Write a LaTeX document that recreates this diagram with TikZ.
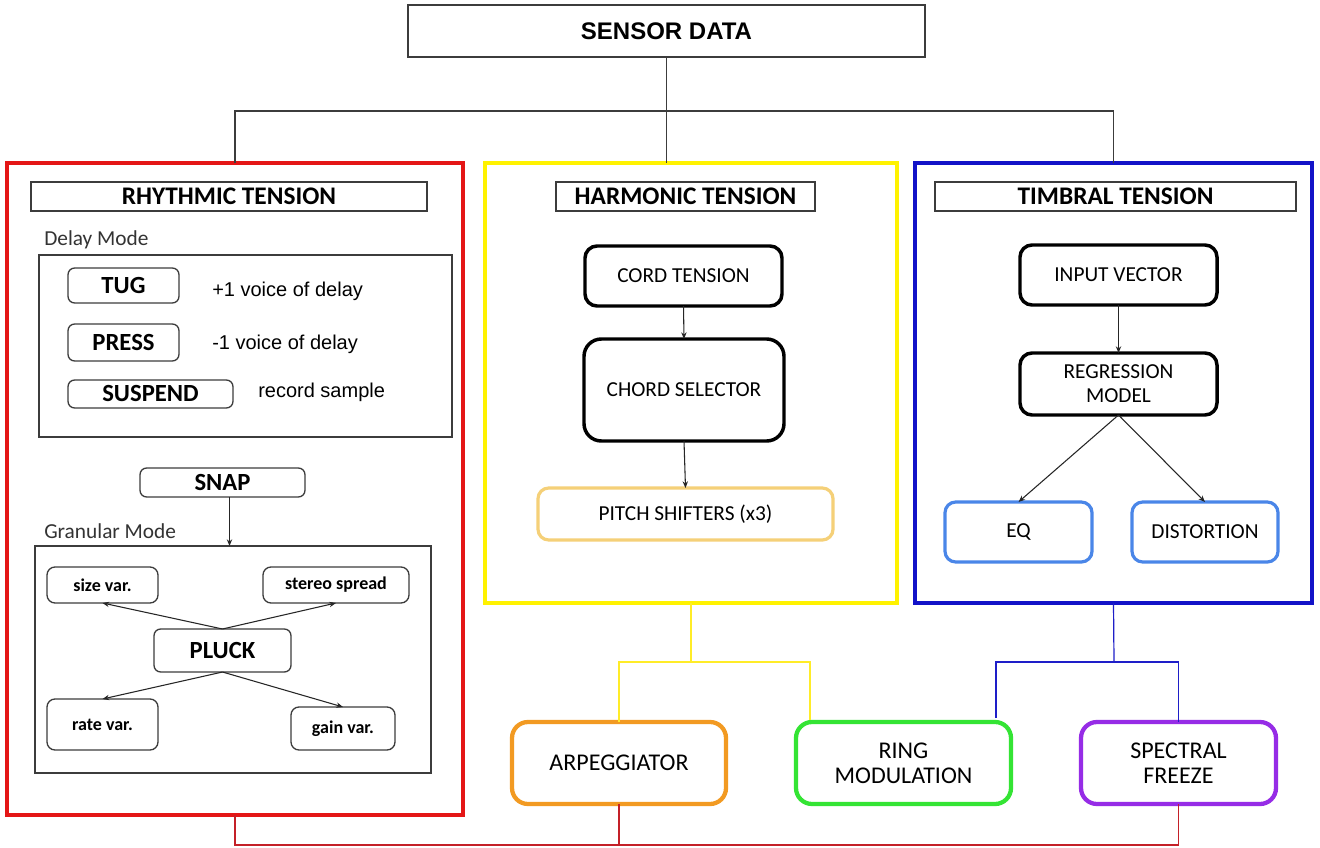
\documentclass[tikz,border=0pt]{standalone}
\usepackage{fontspec}
\setmainfont{Carlito}
\newfontfamily\arialfont{Liberation Sans}
\usetikzlibrary{calc,arrows.meta}

\definecolor{panelred}{RGB}{228,22,22}
\definecolor{panelyellow}{RGB}{255,242,0}
\definecolor{panelblue}{RGB}{18,18,200}
\definecolor{pitchgold}{RGB}{245,208,120}
\definecolor{fxblue}{RGB}{74,134,232}
\definecolor{arporange}{RGB}{242,154,34}
\definecolor{ringgreen}{RGB}{52,228,52}
\definecolor{freezepurple}{RGB}{150,44,230}
\definecolor{wirered}{RGB}{196,32,40}
\definecolor{wireyellow}{RGB}{255,236,40}
\definecolor{wireblue}{RGB}{30,30,200}
\definecolor{edgegray}{RGB}{60,60,60}

\tikzset{
  % a box given by its corners: left/top/right/bottom in pixel units
  corners/.style args={#1/#2/#3/#4}{
    at={(0.5*#1+0.5*#3,0.5*#2+0.5*#4)},
    minimum width={(#3-#1)*0.75pt}, minimum height={(#4-#2)*0.75pt}},
  plainbox/.style={rectangle, inner sep=0pt, outer sep=0pt, align=center},
  panel/.style={plainbox, line width=3.4pt},
  titlebox/.style={plainbox, draw=edgegray, line width=1.2pt,
    font=\fontsize{19}{21}\selectfont\bfseries},
  stagebox/.style={plainbox, draw=black, line width=2.6pt, rounded corners=9pt,
    font=\fontsize{16}{18}\selectfont},
  fxbox/.style={plainbox, line width=2.4pt, rounded corners=8pt,
    font=\fontsize{16}{18}\selectfont},
  outbox/.style={plainbox, line width=3.2pt, rounded corners=12pt,
    font=\fontsize{18}{19}\selectfont},
  gesture/.style={plainbox, draw=edgegray, line width=1pt, rounded corners=5pt,
    font=\fontsize{18.5}{20}\selectfont\bfseries},
  grain/.style={plainbox, draw=edgegray, line width=1pt, rounded corners=6pt,
    font=\fontsize{13.5}{15}\selectfont\bfseries},
  modebox/.style={plainbox, draw=edgegray, line width=1.2pt},
  modelabel/.style={anchor=west, inner sep=0pt, font=\fontsize{16}{18}\selectfont, text=black!80},
  note/.style={anchor=west, inner sep=0pt, font=\arialfont\fontsize{15}{17}\selectfont},
  conn/.style={draw=edgegray, line width=0.9pt},
  arr/.style={draw=black!85, line width=0.8pt, -{Stealth[length=5pt,width=4pt]}},
  wire/.style={line width=0.9pt},
}

\begin{document}
\begin{tikzpicture}[x=0.75pt,y=-0.75pt]
\useasboundingbox[fill=white] (0,0) rectangle (1320,848);

% ---- source ----
\node[plainbox, draw=edgegray, line width=1.2pt, corners=408/5/925/57,
  font=\arialfont\fontsize{18}{20}\selectfont\bfseries] (sd) {SENSOR DATA};

% ---- the three tension panels ----
\node[panel, draw=panelred,    corners=7/163/463/815]   (rb) {};
\node[panel, draw=panelyellow, corners=485/163/897/603] (yb) {};
\node[panel, draw=panelblue,   corners=915/163/1312/603] (bb) {};

\coordinate (bus) at (0,111);
\draw[conn] (sd.south) -- (sd.south |- yb.north);
\draw[conn] (rb.north) -- (rb.north |- bus) -| (bb.north);

% ---- rhythmic tension ----
\node[titlebox, corners=31/182/427/211] (rt) {RHYTHMIC TENSION};
\node[modelabel] (dml) at (44,240) {Delay Mode};
\node[modebox, corners=39/255/452/437] (dm) {};
\node[gesture, corners=68/268/179/303] (tug) {TUG};
\node[gesture, corners=68/324/179/361] (press) {PRESS};
\node[gesture, corners=68/380/233/408] (suspend) {SUSPEND};
\node[note] (n1) at (212,291) {+1 voice of delay};
\node[note] (n2) at (212,344) {-1 voice of delay};
\node[note] (n3) at (258,392) {record sample};

\node[gesture, corners=140/468/305/497] (snap) {SNAP};
\node[modelabel] (gml) at (44,531) {Granular Mode};
\node[modebox, corners=35/546/431/773] (gm) {};
\coordinate (snapout) at ($(snap.south)+(7,0)$);
\draw[arr] (snapout) -- (snapout |- gm.north);

\node[grain, corners=47/567/158/603] (size) {size var.};
\node[grain, corners=263/567/409/603] (stereo) {stereo spread};
\node[gesture, corners=154/629/291/672] (pluck) {PLUCK};
\node[grain, corners=47/699/158/750] (rate) {rate var.};
\node[grain, corners=291/707/395/750] (gain) {gain var.};
\draw[arr] (pluck.north) -- (size.south);
\draw[arr] (pluck.north) -- (stereo.south);
\draw[arr] (pluck.south) -- (rate.north);
\draw[arr] (pluck.south) -- (gain.north);

% ---- harmonic tension ----
\node[titlebox, corners=556/182/815/211] (ht) {HARMONIC TENSION};
\node[stagebox, corners=585/246/782/306] (cord) {CORD TENSION};
\node[stagebox, corners=584/339/784/441, rounded corners=13pt] (chord) {CHORD SELECTOR};
\node[fxbox, draw=pitchgold, corners=538/488/833/540] (pitch) {PITCH SHIFTERS (x3)};
\draw[arr] (cord.south) -- (chord.north);
\draw[arr] (chord.south) -- (pitch.north);

% ---- timbral tension ----
\node[titlebox, corners=935/182/1296/211] (tt) {TIMBRAL TENSION};
\node[stagebox, corners=1020/245/1217/305] (input) {INPUT VECTOR};
\node[stagebox, corners=1020/353/1217/415] (reg) {REGRESSION\\MODEL};
\node[fxbox, draw=fxblue, corners=945/502/1092/562] (eq) {EQ};
\node[fxbox, draw=fxblue, corners=1132/502/1278/562] (dist) {DISTORTION};
\draw[arr] (input.south) -- (reg.north);
\draw[arr] (reg.south) -- (eq.north);
\draw[arr] (reg.south) -- (dist.north);

% ---- output effects ----
\node[outbox, draw=arporange,    corners=512/722/726/804]  (arp)  {ARPEGGIATOR};
\node[outbox, draw=ringgreen,    corners=796/722/1011/804] (ring) {RING\\MODULATION};
\node[outbox, draw=freezepurple, corners=1081/722/1276/804] (spec) {SPECTRAL\\FREEZE};

\coordinate (yj) at (691,662);
\coordinate (ringin) at ($(ring.north west)+(14,-2)$);
\draw[wire, draw=wireyellow] (yb.south) -- (yj);
\draw[wire, draw=wireyellow] (arp.north) |- (yj) -| (ringin);

\coordinate (bj) at (1114,662);
\coordinate (ringside) at ($(ring.north east)+(-15,-4)$);
\draw[wire, draw=wireblue] (bb.south) -- (bj);
\draw[wire, draw=wireblue] (ringside) |- (bj) -| (spec.north);

\coordinate (rj) at (0,845);
\draw[wire, draw=wirered] (rb.south) |- (spec.south |- rj) -- (spec.south);
\draw[wire, draw=wirered] (arp.south) -- (arp.south |- rj);
\end{tikzpicture}
\end{document}
